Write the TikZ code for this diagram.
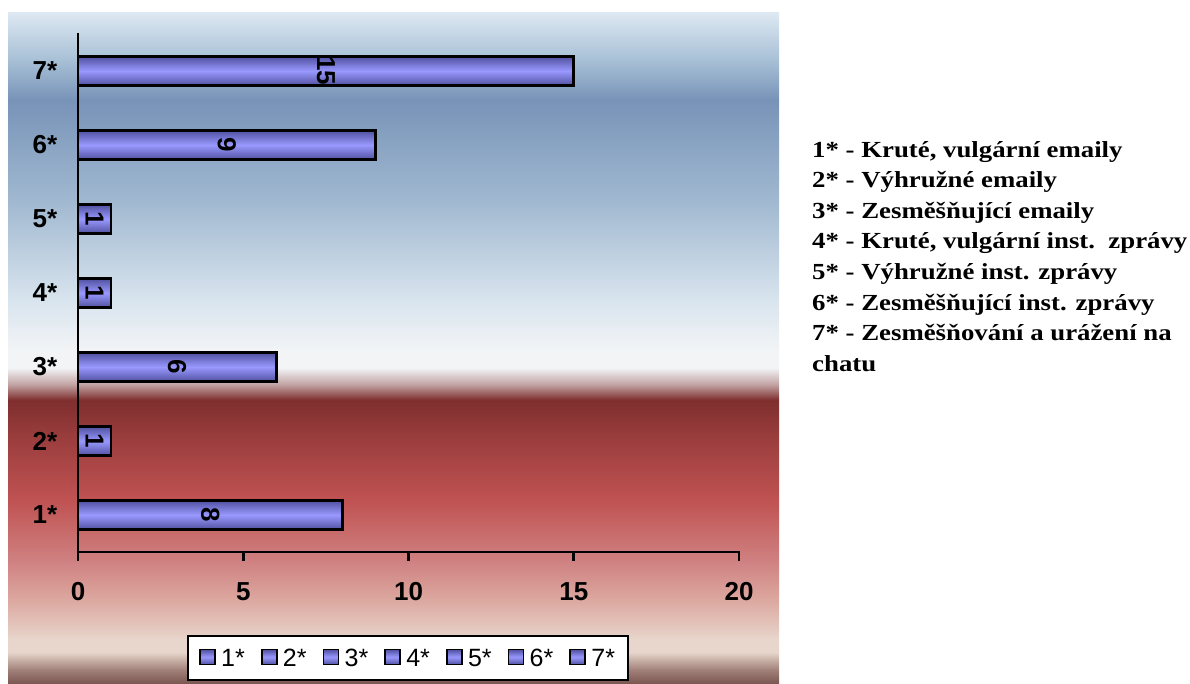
\documentclass[tikz,border=0pt]{standalone}
\usepackage{fontspec}
\setmainfont{Liberation Serif}
\newfontfamily\arialfont{Liberation Sans}
\newfontfamily\explfont{Liberation Serif}[FakeStretch=1.165]
\usetikzlibrary{positioning}

\definecolor{bgtop}{HTML}{DDE8F2}
\definecolor{bgblueA}{HTML}{A8C0D6}
\definecolor{bgblue}{HTML}{7893B8}
\definecolor{bgblueB}{HTML}{A0B8D0}
\definecolor{bgpale}{HTML}{D8E4EE}
\definecolor{bgwhite}{HTML}{F2F4F6}
\definecolor{bgrose}{HTML}{C0A0A0}
\definecolor{bgdark}{HTML}{7F2E2E}
\definecolor{bgredA}{HTML}{9C3E3E}
\definecolor{bgred}{HTML}{C05252}
\definecolor{bgredB}{HTML}{CF8080}
\definecolor{bgpink}{HTML}{DCA8A0}
\definecolor{bgpinkB}{HTML}{E8D6CC}
\definecolor{bgbrownA}{HTML}{A08078}
\definecolor{bgbrown}{HTML}{7A5550}
\definecolor{barlight}{HTML}{9999FF}
\definecolor{bardark}{HTML}{5050A0}

\pgfdeclareverticalshading{plotbg}{100bp}{
  color(0bp)=(bgbrown); color(25bp)=(bgbrown); color(26.04bp)=(bgbrownA);
  color(27.38bp)=(bgpinkB); color(28.28bp)=(bgpinkB); color(31.26bp)=(bgpink);
  color(34.24bp)=(bgredB); color(38.71bp)=(bgred); color(43.18bp)=(bgredA);
  color(46.16bp)=(bgdark); color(47.28bp)=(bgrose); color(48.55bp)=(bgwhite);
  color(49.89bp)=(bgwhite); color(53.61bp)=(bgpale); color(61.07bp)=(bgblueB);
  color(68.52bp)=(bgblue); color(71.5bp)=(bgblueA); color(75bp)=(bgtop);
  color(100bp)=(bgtop)}

\tikzset{
  barbox/.style={draw=black, line width=2.6pt, top color=bardark, bottom color=bardark, middle color=barlight},
  barlbl/.style={font=\arialfont\bfseries\fontsize{26}{26}\selectfont, rotate=-90, inner sep=0pt},
  catlbl/.style={font=\arialfont\bfseries\fontsize{26}{26}\selectfont, inner sep=0pt},
  ticklbl/.style={font=\arialfont\bfseries\fontsize{26}{26}\selectfont, inner sep=0pt},
  legkey/.style={draw=black, line width=1.6pt, top color=bardark, bottom color=bardark, middle color=barlight, minimum size=15pt, inner sep=0pt},
  legtxt/.style={font=\arialfont\fontsize{25}{25}\selectfont, inner sep=0pt, anchor=west},
}

\begin{document}
\begin{tikzpicture}[x=1pt, y=-1pt]
  \useasboundingbox (0,0) rectangle (1190,684);
  % background of the plot
  \shade[shading=plotbg] (8,13) rectangle (779,684);

  % bars
  \foreach \v [count=\i] in {8,1,6,1,1,9,15} {
    \draw[barbox] (78, 574.5-74*\i) rectangle (78+33.05*\v, 603.5-74*\i);
    \node[barlbl] (v\i) at (78+16.525*\v, 589-74*\i) {\v};
    \node[catlbl] (c\i) at (45, 589-74*\i) {\i*};
  }

  % axes
  \draw[line width=2.6pt] (78,33) -- (78,552) -- (740,552);
  \foreach \t in {0,5,10,15,20} {
    \draw[line width=2.6pt] (78+33.05*\t,552) -- (78+33.05*\t,561);
    \node[ticklbl] (t\t) at (78+33.05*\t,592) {\t};
  }

  % legend
  \node[draw=black, line width=2pt, fill=white, minimum width=440pt, minimum height=44pt] (leg) at (408,658) {};
  \foreach \i in {1,...,7} {
    \node[legkey] (k\i) at ({207.5+61.7*(\i-1)}, 657) {};
    \node[legtxt] (l\i) at ({221+61.7*(\i-1)}, 658) {\i*};
  }

  % explanation
  \node[anchor=north west, align=left, inner sep=0pt,
        font=\explfont\bfseries\fontsize{23}{30.6}\selectfont] (expl) at (812,141)
    {1* - Kruté, vulgární emaily\\
     2* - Výhružné emaily\\
     3* - Zesměšňující emaily\\
     4* - Kruté, vulgární inst.\ \ zprávy\\
     5* - Výhružné inst. zprávy\\
     6* - Zesměšňující inst. zprávy\\
     7* - Zesměšňování a urážení na\\
     chatu};
\end{tikzpicture}
\end{document}
